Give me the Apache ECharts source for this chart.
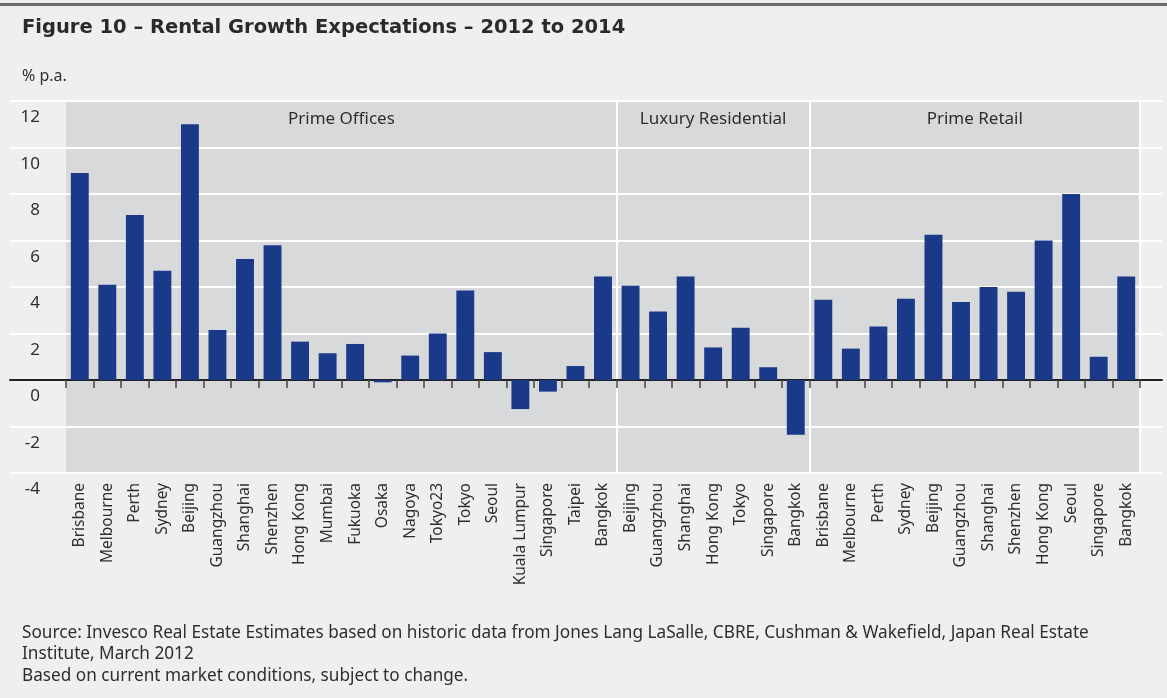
<!DOCTYPE html>
<html>
<head>
<meta charset="utf-8">
<style>
  html, body { margin: 0; padding: 0; background: #eef0ef; }
  #chart { width: 1167px; height: 698px; }
</style>
<script src="https://cdn.jsdelivr.net/npm/echarts@6/dist/echarts.min.js"></script>
</head>
<body>
<div id="chart"></div>
<script>
var chartDom = document.getElementById("chart");
var myChart = echarts.init(chartDom);
var option;

// Prime Offices
const officeCities = ["Brisbane", "Melbourne", "Perth", "Sydney", "Beijing", "Guangzhou", "Shanghai", "Shenzhen", "Hong Kong", "Mumbai",
  "Fukuoka", "Osaka", "Nagoya", "Tokyo23", "Tokyo", "Seoul", "Kuala Lumpur", "Singapore", "Taipei", "Bangkok"];
const officeValues = [8.9, 4.1, 7.1, 4.7, 11.0, 2.15, 5.2, 5.8, 1.65, 1.15,
  1.55, -0.1, 1.05, 2.0, 3.85, 1.2, -1.25, -0.5, 0.6, 4.45];

// Luxury Residential
const residentialCities = ["Beijing", "Guangzhou", "Shanghai", "Hong Kong", "Tokyo", "Singapore", "Bangkok"];
const residentialValues = [4.05, 2.95, 4.45, 1.4, 2.25, 0.55, -2.35];

// Prime Retail
const retailCities = ["Brisbane", "Melbourne", "Perth", "Sydney", "Beijing", "Guangzhou", "Shanghai", "Shenzhen", "Hong Kong", "Seoul",
  "Singapore", "Bangkok"];
const retailValues = [3.45, 1.35, 2.3, 3.5, 6.25, 3.35, 4.0, 3.8, 6.0, 8.0, 1.0, 4.45];

const groups = ["Prime Offices", "Luxury Residential", "Prime Retail"];

const yMin = -4;
const yMax = 12;
const yStep = 2;

const categories = officeCities.concat(residentialCities, retailCities);
const values = officeValues.concat(residentialValues, retailValues);

// where each group starts / ends (category index)
const groupStarts = [0, officeCities.length, officeCities.length + residentialCities.length];
const groupEnds = [officeCities.length - 1, officeCities.length + residentialCities.length - 1, categories.length - 1];

const font = "'Noto Sans', 'Open Sans', sans-serif";
const textColor = "#2e2e2e";

option = {
  backgroundColor: "#eef0ef",
  animation: false,
  title: [
    {
      text: "Figure 10 – Rental Growth Expectations – 2012 to 2014",
      left: 17,
      top: 13,
      textStyle: { fontFamily: "'DejaVu Sans', sans-serif", fontSize: 19.5, fontWeight: "bold", color: "#2a2a2a" },
    },
    {
      text: "% p.a.",
      left: 17,
      top: 63,
      textStyle: { fontFamily: font, fontSize: 16, fontWeight: "normal", color: textColor },
    },
    {
      text: "Source: Invesco Real Estate Estimates based on historic data from Jones Lang LaSalle, CBRE, Cushman & Wakefield, Japan Real Estate\nInstitute, March 2012\nBased on current market conditions, subject to change.",
      left: 17,
      top: 617,
      textStyle: { fontFamily: font, fontSize: 17.2, fontWeight: "normal", color: textColor, lineHeight: 21.5 },
    },
  ],
  graphic: [
    {
      type: "rect",
      shape: { x: 0, y: 3, width: 1167, height: 3 },
      style: { fill: "#6b6b6b" },
    },
  ],
  grid: [
    // wide grid: only the white gridlines and the zero line
    { left: 10, right: 5, top: 101, bottom: 225 },
    // grey plot area with the bars
    { left: 66, right: 27, top: 101, bottom: 225, show: true, backgroundColor: "#d8d9db", borderWidth: 0 },
  ],
  xAxis: [
    {
      gridIndex: 0,
      type: "value",
      min: 0,
      max: 1,
      axisLine: { show: true, onZero: true, lineStyle: { color: "#222", width: 2 } },
      axisTick: { show: false },
      axisLabel: { show: false },
      splitLine: { show: false },
    },
    {
      gridIndex: 1,
      type: "category",
      data: categories,
      position: "bottom",
      axisLine: { show: false, onZero: false },
      axisTick: { show: false },
      axisLabel: {
        interval: 0,
        rotate: 90,
        margin: 10,
        fontFamily: font,
        fontSize: 15.5,
        color: textColor,
      },
      splitLine: {
        show: true,
        interval: function (index) {
          return index === groupStarts[1] || index === groupStarts[2];
        },
        lineStyle: { color: "#ffffff", width: 2 },
      },
    },
    {
      gridIndex: 1,
      type: "category",
      data: categories,
      axisLine: { show: false, onZero: true },
      axisTick: { show: true, inside: true, length: 8, interval: 0, lineStyle: { color: "#444", width: 1.5 } },
      axisLabel: { show: false },
      splitLine: { show: false },
    },
  ],
  yAxis: [
    {
      gridIndex: 0,
      type: "value",
      min: yMin,
      max: yMax,
      interval: yStep,
      axisLine: { show: false },
      axisTick: { show: false },
      axisLabel: { show: false },
      splitLine: { show: true, lineStyle: { color: "#ffffff", width: 2 } },
    },
    {
      gridIndex: 1,
      type: "value",
      min: yMin,
      max: yMax,
      interval: yStep,
      axisLine: { show: false },
      axisTick: { show: false },
      axisLabel: {
        margin: 26,
        fontFamily: font,
        fontSize: 17,
        color: textColor,
        verticalAlign: "top",
        lineHeight: 17,
        padding: [8, 0, 0, 0],
      },
      splitLine: { show: true, lineStyle: { color: "#ffffff", width: 2 } },
    },
  ],
  series: [
    {
      type: "bar",
      xAxisIndex: 1,
      yAxisIndex: 1,
      data: values,
      barCategoryGap: "35%",
      itemStyle: { color: "#1a3989" },
      markArea: {
        silent: true,
        itemStyle: { color: "rgba(0,0,0,0)" },
        label: {
          show: true,
          position: "insideTop",
          distance: 10,
          fontFamily: font,
          fontSize: 17,
          color: textColor,
        },
        data: groups.map(function (g, i) {
          return [{ name: g, xAxis: groupStarts[i] }, { xAxis: groupEnds[i] }];
        }),
      },
    },
  ],
};

option && myChart.setOption(option);
</script>
</body>
</html>
